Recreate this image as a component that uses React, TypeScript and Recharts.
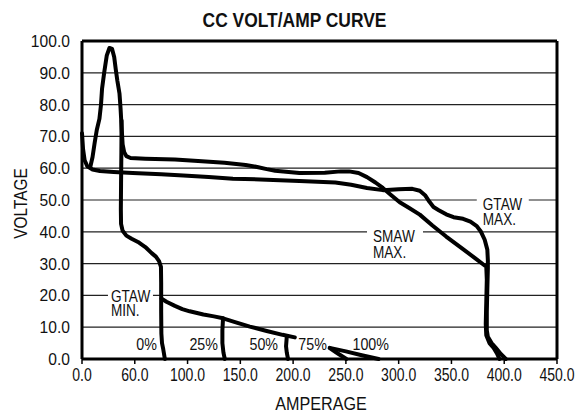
import React from 'react';
import {
  LineChart,
  Line,
  XAxis,
  YAxis,
  CartesianGrid,
  ReferenceLine,
  ReferenceDot
} from 'recharts';

// [amperage, voltage] pairs
const gtawMax = [
  [0, 71], [1, 66], [2.5, 62.5], [5, 60.6], [10, 59.6], [17, 59.1], [30, 58.8], [48, 58.5],
  [75, 58.1], [96, 57.7], [120, 57.2], [143, 56.7], [175, 56.4], [206, 56], [240, 55.5],
  [255, 54.8], [270, 53.8], [285, 53.1], [300, 53.4], [313, 53.5], [320, 52.9], [325, 51.5],
  [329, 49.5], [333, 47.8], [338, 46.8], [345, 45.5], [352, 44.6], [361, 44.1], [368, 43.2],
  [374, 41.8], [378, 40], [381.5, 37.5], [384, 34.4], [384.5, 31], [384.5, 28.5], [384, 22],
  [383.5, 15], [383.5, 9], [384.5, 7], [388, 5], [392, 3.5], [397, 1.5], [401.5, 0]
];

const smawMax = [
  [8, 60.6], [10, 63.5], [12, 68], [14, 72], [16.5, 75.5], [18, 80], [19, 85], [21, 90],
  [23.5, 95.5], [26, 97.8], [28.5, 97.5], [30.5, 95], [32, 91], [33.5, 87.5], [35.5, 83.5],
  [36.5, 79], [37.5, 73], [38.5, 67.5], [40, 65], [42, 63.8], [46, 63.2], [60, 63], [88, 62.7],
  [110, 62.3], [135, 61.7], [155, 61], [166, 60.4], [175, 59.7], [183, 59.2], [206, 58.5],
  [230, 58.6], [245, 59], [253, 59], [262, 58.5], [270, 57.2], [278, 55.5], [285, 53.8],
  [293, 51.5], [301, 49.3], [310, 47.5], [320, 45.4], [332, 42], [345, 38.5], [360, 34.8],
  [372, 31.8], [383, 29], [383.5, 25], [383, 18], [382.5, 11], [383, 7.5], [386, 5],
  [390, 3.5], [393, 1.8], [395.5, 0]
];

const gtawMin = [
  [37.5, 75], [37.3, 65], [37, 55], [36.8, 47], [37, 42.5], [38.5, 40.3], [42, 38.8], [47, 37.8],
  [53, 36.8], [60, 35.2], [66, 33.3], [70, 32.2], [73, 30.8], [74.8, 29], [75, 24], [75, 15],
  [75.2, 8], [75.8, 5], [77, 3], [78.5, 0]
];

const dutyCurve = [
  [75.4, 19], [80, 18], [88, 16.7], [95, 15.7], [102, 15], [115, 14], [125, 13.4], [133.6, 12.8],
  [145, 11.6], [159, 10.2], [175, 8.8], [190, 7.6], [201.6, 6.8]
];
const dutyTail = [[234.7, 3.5], [250, 2.4], [265, 1.2], [281, 0]];
const marker25 = [[133.6, 12.8], [133, 9], [133, 5], [134, 2], [135.3, 0]];
const marker50 = [[194, 7], [193.3, 4], [194, 2], [195.2, 0]];
const marker75 = [[234.7, 3.4], [242, 1.8], [250.5, 0]];

const series = [gtawMax, smawMax, gtawMin, dutyCurve, dutyTail, marker25, marker50, marker75];

const xTicks = [0, 50, 100, 150, 200, 250, 300, 350, 400, 450];
const xTickLabels = ['0.0', '60.0', '100.0', '150.0', '200.0', '250.0', '300.0', '350.0', '400.0', '450.0'];
const yTicks = [0, 10, 20, 30, 40, 50, 60, 70, 80, 90, 100];

// curve names sitting on a gridline: anchor amperage, gridline voltage, cover width (px)
const curveLabels = [
  { lines: ['GTAW', 'MAX.'], a: 374, v: 50, w: 52, dx: 6, base: [10, 25] },
  { lines: ['SMAW', 'MAX.'], a: 270, v: 40, w: 56, dx: 6, base: [10, 26] },
  { lines: ['GTAW', 'MIN.'], a: 24.6, v: 20, w: 45, dx: 3, base: [7, 21] }
];
// duty-cycle labels: text, amperage of the text's right edge
const dutyLabels = [
  { text: '0%', a: 71 },
  { text: '25%', a: 128.8 },
  { text: '50%', a: 185.7 },
  { text: '75%', a: 232 },
  { text: '100%', a: 290.8 }
];

const FONT = '"Liberation Sans", Arial, sans-serif';

const toPts = (arr: number[][]) => arr.map(([a, v]) => ({ a, v }));

// horizontally squeezed text, to mimic a condensed face
function CText({ x, y, size, sx, anchor = 'start', bold = false, dy, rotate = 0, children }: any) {
  return (
    <g transform={`translate(${x},${y}) rotate(${rotate}) scale(${sx},1)`}>
      <text
        x={0}
        y={0}
        dy={dy}
        textAnchor={anchor}
        fontFamily={FONT}
        fontSize={size}
        fontWeight={bold ? 'bold' : 'normal'}
        fill="#111"
      >
        {children}
      </text>
    </g>
  );
}

const XTick = (p: any) => (
  <CText x={p.x} y={p.y} size={18} sx={0.78} anchor="middle" dy="0.71em">
    {xTickLabels[xTicks.indexOf(p.payload.value)]}
  </CText>
);

const YTick = (p: any) => (
  <CText x={p.x} y={p.y} size={17} sx={0.92} anchor="end" dy="0.355em">
    {Number(p.payload.value).toFixed(1)}
  </CText>
);

export default function App() {
  return (
    <div style={{ position: 'absolute', left: 0, top: 0, width: 575, height: 414, background: '#fff' }}>
      <LineChart width={575} height={414} margin={{ top: 41, right: 18, bottom: 25, left: 22 }}>
        <CartesianGrid vertical={false} stroke="#222" strokeWidth={1.2} />
        <XAxis
          dataKey="a"
          type="number"
          domain={[0, 450]}
          ticks={xTicks}
          height={30}
          tickSize={5}
          tickMargin={4}
          axisLine={{ stroke: '#000', strokeWidth: 3 }}
          tickLine={{ stroke: '#000', strokeWidth: 1.5 }}
          tick={XTick}
        />
        <YAxis
          dataKey="v"
          type="number"
          domain={[0, 100]}
          ticks={yTicks}
          width={60}
          tickSize={0}
          tickMargin={12}
          tickLine={false}
          axisLine={{ stroke: '#000', strokeWidth: 3 }}
          tick={YTick}
        />
        <ReferenceLine y={100} stroke="#000" strokeWidth={3} />
        <ReferenceLine x={450} stroke="#000" strokeWidth={3} />
        {curveLabels.map((l, i) => (
          <ReferenceDot
            key={'cl' + i}
            x={l.a}
            y={l.v}
            r={1}
            ifOverflow="visible"
            shape={(p: any) => (
              <g>
                <rect x={p.cx} y={p.cy - 3} width={l.w} height={6} fill="#fff" />
                {l.lines.map((t, j) => (
                  <CText key={j} x={p.cx + l.dx} y={p.cy + l.base[j]} size={17} sx={0.8}>
                    {t}
                  </CText>
                ))}
              </g>
            )}
          />
        ))}
        {dutyLabels.map((l, i) => (
          <ReferenceDot
            key={'dl' + i}
            x={l.a}
            y={0}
            r={1}
            ifOverflow="visible"
            shape={(p: any) => (
              <CText x={p.cx} y={p.cy - 9} size={17} sx={0.84} anchor="end">
                {l.text}
              </CText>
            )}
          />
        ))}
        {series.map((s, i) => (
          <Line
            key={i}
            data={toPts(s)}
            dataKey="v"
            type="linear"
            stroke="#000"
            strokeWidth={4}
            strokeLinejoin="round"
            strokeLinecap="round"
            dot={false}
            activeDot={false}
            isAnimationActive={false}
          />
        ))}
      </LineChart>
      <svg width={575} height={414} style={{ position: 'absolute', left: 0, top: 0, pointerEvents: 'none' }}>
        <CText x={294.5} y={27} size={21} sx={0.83} bold anchor="middle">
          CC VOLT/AMP CURVE
        </CText>
        <CText x={321} y={410} size={19} sx={0.85} anchor="middle">
          AMPERAGE
        </CText>
        <CText x={27} y={203.5} size={18} sx={0.86} rotate={-90} anchor="middle">
          VOLTAGE
        </CText>
      </svg>
    </div>
  );
}
